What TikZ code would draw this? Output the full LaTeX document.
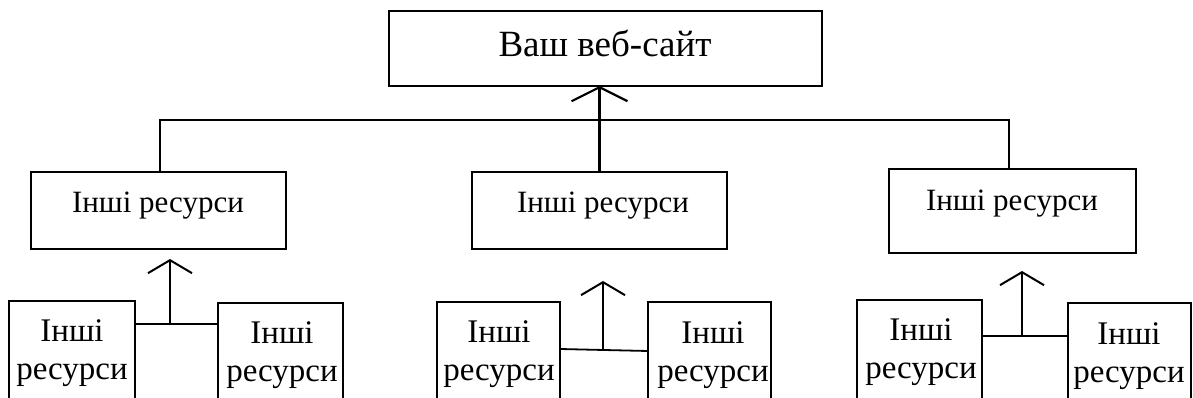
\documentclass[tikz,border=0pt]{standalone}
\usepackage{fontspec}
\setmainfont{Liberation Serif}
\usetikzlibrary{arrows.meta}
\begin{document}
\begin{tikzpicture}[x=1pt,y=-1pt,
  box/.style={draw,line width=1.8pt,rectangle,inner sep=0pt,outer sep=0pt},
  bigtxt/.style={anchor=base,inner sep=0pt,font=\fontsize{37}{44}\selectfont},
  midtxt/.style={anchor=base,inner sep=0pt,font=\fontsize{31}{37}\selectfont},
  smalltxt/.style={anchor=base,inner sep=0pt,align=center,font=\fontsize{33}{38}\selectfont},
  conn/.style={line width=1.8pt},
  bigarr/.style={line width=3.2pt,-{Straight Barb[length=14pt,width=56pt,line width=2.2pt]}},
  smallarr/.style={line width=2pt,-{Straight Barb[length=13pt,width=44pt,line width=2pt]}}]
\useasboundingbox (0,0) rectangle (1193,398);
\clip (0,0) rectangle (1193,398);
% top
\node[box,minimum width=433pt,minimum height=75pt] (top) at (605.5,48.5) {};
\node[bigtxt] (topt) at (605,57) {Ваш веб-сайт};
% middle row
\node[box,minimum width=255pt,minimum height=77pt] (m1) at (158.5,210.5) {};
\node[box,minimum width=255pt,minimum height=77pt] (m2) at (599.5,210.5) {};
\node[box,minimum width=247pt,minimum height=84pt] (m3) at (1012.5,211) {};
\node[midtxt] (m1t) at (158,212) {Інші ресурси};
\node[midtxt] (m2t) at (603,212) {Інші ресурси};
\node[midtxt] (m3t) at (1012,210) {Інші ресурси};
% bottom row
\node[box,minimum width=126pt,minimum height=109pt] (ll) at (72,355.5) {};
\node[box,minimum width=125pt,minimum height=107pt] (lr) at (280.5,356.5) {};
\node[box,minimum width=123pt,minimum height=108pt] (ml) at (498.5,356) {};
\node[box,minimum width=123pt,minimum height=108pt] (mr) at (709.5,356) {};
\node[box,minimum width=125pt,minimum height=110pt] (rl) at (919.5,355) {};
\node[box,minimum width=123pt,minimum height=107pt] (rr) at (1129.5,356.5) {};
\node[smalltxt] (llt) at (72,379) {Інші\\ресурси};
\node[smalltxt] (lrt) at (282,381) {Інші\\ресурси};
\node[smalltxt] (mlt) at (499,380) {Інші\\ресурси};
\node[smalltxt] (mrt) at (713,381) {Інші\\ресурси};
\node[smalltxt] (rlt) at (921,378) {Інші\\ресурси};
\node[smalltxt] (rrt) at (1129,382) {Інші\\ресурси};
% connectors top
\coordinate (bus) at (600,120);
\draw[conn] (m1.north -| 160,0) |- (bus) -| (m3.north -| 1009,0);
\draw[bigarr] (m2.north) -- (top.south -| m2.north);
% bottom groups
\coordinate (j1) at (170,324);
\coordinate (t1) at (170,259);
\draw[conn] (ll.east |- j1) -- (lr.west |- j1);
\draw[smallarr] (j1) -- (t1);
\coordinate (j2) at (603,350);
\coordinate (t2) at (603,281);
\draw[conn] (ml.east |- 0,349) -- (mr.west |- 0,351);
\draw[smallarr] (j2) -- (t2);
\coordinate (j3) at (1022,336);
\coordinate (t3) at (1022,271);
\draw[conn] (rl.east |- j3) -- (rr.west |- j3);
\draw[smallarr] (j3) -- (t3);
\end{tikzpicture}
\end{document}
